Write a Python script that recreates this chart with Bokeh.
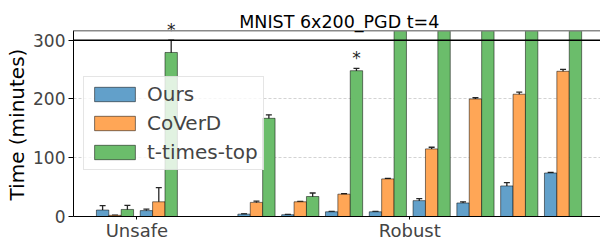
from bokeh.plotting import figure
from bokeh.models import (ColumnDataSource, Whisker, TeeHead, Span, Legend,
                          LegendItem, Label, FixedTicker, Range1d, Title)
from bokeh.embed import file_html
from bokeh.resources import INLINE

# ---------------- data ----------------
title_text = "MNIST 6x200_PGD t=4"
y_label = "Time (minutes)"
categories = ["Unsafe", "Robust"]
series = ["Ours", "CoVerD", "t-times-top"]
colors = ["#62a0ca", "#ffa656", "#6bbd6b"]

unsafe_ours = [11, 10]
unsafe_ours_err = [7.5, 2.5]
unsafe_coverd = [2, 25]
unsafe_coverd_err = [0.5, 24]
unsafe_ttt = [12, 279]
unsafe_ttt_err = [7, 21]

robust_ours = [4, 3, 8, 8, 27, 23, 52, 74]
robust_ours_err = [0.5, 0.5, 0.5, 0.5, 3.4, 2, 5.6, 1]
robust_coverd = [24, 25, 38, 64, 115, 200, 208, 247]
robust_coverd_err = [2, 0.8, 0.8, 1, 2.8, 2, 3.4, 3.4]
robust_ttt = [167, 34, 248, 330, 330, 330, 330, 330]
robust_ttt_err = [6, 6, 4, 0, 0, 0, 0, 0]

# (section, group index) of t-times-top bars marked with "*"
starred = [("Unsafe", 1), ("Robust", 2)]

timeout_line = 300
y_ticks = [0, 100, 200, 300]
y_max = 316

# ---------------- layout ----------------
W, H = 600, 243
border_left, border_bottom = 73, 25
frame_h = H - border_bottom
px_per_min = 178 / 300.0
y_top = frame_h / px_per_min           # frame reaches the top of the canvas
x_start, x_end, x_axes_end = -0.9475, 11.085, 11.19

section_gap = 2.23
bar_w = 0.283
unsafe_pos = [float(i) for i in range(len(unsafe_ours))]
robust_pos = [unsafe_pos[-1] + section_gap + i for i in range(len(robust_ours))]
group_pos = unsafe_pos + robust_pos

values = [unsafe_ours + robust_ours, unsafe_coverd + robust_coverd, unsafe_ttt + robust_ttt]
errors = [unsafe_ours_err + robust_ours_err, unsafe_coverd_err + robust_coverd_err,
          unsafe_ttt_err + robust_ttt_err]
offsets = [-bar_w, 0.0, bar_w]

FONT = "DejaVu Sans"

p = figure(width=W, height=H, output_backend="svg", toolbar_location=None,
           x_range=Range1d(x_start, x_end), y_range=Range1d(0, y_top),
           min_border_left=border_left, min_border_right=0, min_border_top=0,
           min_border_bottom=border_bottom)
p.outline_line_color = None
p.background_fill_color = "white"
p.border_fill_color = "white"

# grid (drawn below bars)
p.xgrid.grid_line_color = None
p.ygrid.grid_line_color = "#c8c8c8"
p.ygrid.grid_line_dash = "3 2"
p.ygrid.grid_line_width = 0.8
p.ygrid.ticker = FixedTicker(ticks=y_ticks)

items = []
for s, name in enumerate(series):
    xs = [g + offsets[s] for g in group_pos]
    shown = [min(v, y_max) for v in values[s]]   # bars are cut at the axis limit
    src = ColumnDataSource(dict(x=xs, top=shown))
    r = p.vbar(x="x", top="top", width=bar_w, source=src, fill_color=colors[s],
               line_color="black", line_alpha=0.5, line_width=1)
    items.append(LegendItem(label=name, renderers=[r]))
    ex, lo, up = [], [], []
    for x, v, e in zip(xs, values[s], errors[s]):
        if v < y_max and e > 0:
            ex.append(x); lo.append(v - e); up.append(v + e)
    wsrc = ColumnDataSource(dict(base=ex, lower=lo, upper=up))
    w = Whisker(base="base", lower="lower", upper="upper", source=wsrc,
                dimension="height", line_color="#262626", line_width=1.3,
                upper_head=TeeHead(size=6, line_color="#262626", line_width=1.3),
                lower_head=TeeHead(size=6, line_color="#262626", line_width=1.3))
    p.add_layout(w)

# stars above marked bars
for sec, gi in starred:
    idx = gi if sec == "Unsafe" else len(unsafe_pos) + gi
    x = group_pos[idx] + offsets[2]
    yv = values[2][idx] + errors[2][idx]
    p.add_layout(Label(x=x, y=yv, text="*", text_align="center", text_baseline="bottom",
                       text_font_size="17px", text_font=FONT, text_color="#262626"))

# timeout line and top spine
p.add_layout(Span(location=timeout_line, dimension="width", line_color="black", line_width=1.5))
p.add_layout(Span(location=y_max, dimension="width", line_color="#8a8a8a", line_width=1.5))

# title (drawn as text above the top spine)
title_y = y_max + 14.3
p.add_layout(Label(x=(x_start + x_axes_end) / 2, y=title_y, text=title_text,
                   text_align="center", text_baseline="alphabetic",
                   text_font=FONT, text_font_size="17.5px", text_color="black"))

# y axis
p.yaxis.ticker = FixedTicker(ticks=y_ticks)
p.yaxis.bounds = (0, y_max)
p.yaxis.major_label_text_font = FONT
p.yaxis.major_label_text_font_size = "17px"
p.yaxis.major_label_standoff = 3
p.yaxis.major_tick_out = 5
p.yaxis.major_tick_in = 0
p.yaxis.minor_tick_line_color = None
p.yaxis.axis_line_color = "black"

# y axis label as a side title, centred on the visible axis span
ylab = Title(text=y_label, align="left", offset=16, standoff=4,
             text_font=FONT, text_font_size="20px", text_font_style="normal",
             text_color="black")
p.add_layout(ylab, "left")

# x axis
sec_centers = [round(sum(unsafe_pos) / len(unsafe_pos), 3),
               round(sum(robust_pos) / len(robust_pos), 3)]
p.xaxis.ticker = FixedTicker(ticks=sec_centers)
p.xaxis.major_label_overrides = {c: lab for c, lab in zip(sec_centers, categories)}
p.xaxis.major_label_text_font = FONT
p.xaxis.major_label_text_font_size = "18px"
p.xaxis.major_label_standoff = 0
p.xaxis.major_tick_out = 3
p.xaxis.major_tick_in = 0
p.xaxis.minor_tick_line_color = None
p.xaxis.axis_line_color = "black"

legend = Legend(items=items, location=(10, 46), margin=0,
                label_text_font=FONT, label_text_font_size="20px",
                glyph_width=51, glyph_height=18, label_standoff=7,
                spacing=5, padding=5, border_line_color="#cccccc",
                background_fill_alpha=0.8)
p.add_layout(legend)

open("out.html", "w").write(file_html(p, INLINE))
